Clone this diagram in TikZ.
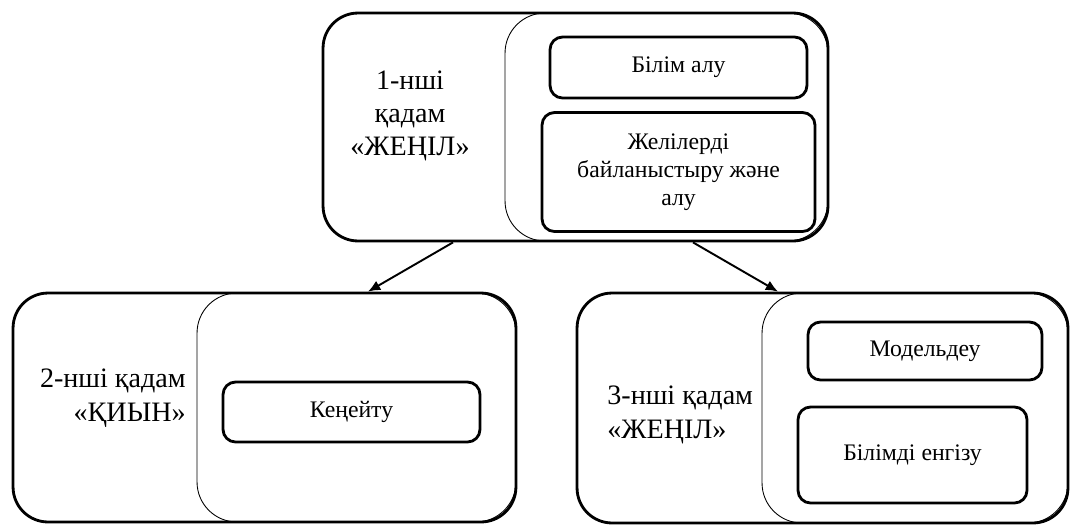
\documentclass[tikz,border=0pt]{standalone}
\usepackage{fontspec}
\setmainfont{Liberation Serif}
\usetikzlibrary{arrows.meta}
\begin{document}
\begin{tikzpicture}[x=0.02cm,y=-0.02cm,
    stepbox/.style={draw,line width=1.6pt,rounded corners=0.7cm},
    panel/.style={draw,line width=0.5pt,rounded corners=0.8cm},
    taskbox/.style={draw,line width=1.6pt,rounded corners=0.25cm,align=center,
        font=\fontsize{13.5}{16}\selectfont},
    steptext/.style={inner sep=0pt,font=\fontsize{16}{19}\selectfont},
    link/.style={-{Latex[length=7pt,width=6pt]},line width=1.1pt}]
    \useasboundingbox (0,0) rectangle (1072,525);
    % first step
    \node[panel,minimum width=6.46cm,minimum height=4.56cm] (panelone) at (666.5,127) {};
    \node[stepbox,minimum width=10.1cm,minimum height=4.56cm] (stepone) at (575.5,127) {};
    \node[steptext,align=center] (textone) at (410,116) {1-нші\\қадам\\«ЖЕҢІЛ»};
    \node[taskbox,minimum width=5.14cm,minimum height=1.22cm] (bilim) at (678.5,67.5) {Білім алу};
    \node[taskbox,minimum width=5.46cm,minimum height=2.38cm] (zheli) at (678.5,172) {Желілерді\\байланыстыру және\\алу};
    % second step
    \node[panel,minimum width=6.38cm,minimum height=4.58cm] (paneltwo) at (356.5,407.5) {};
    \node[stepbox,minimum width=10.06cm,minimum height=4.58cm] (steptwo) at (264.5,407.5) {};
    \node[steptext,align=right,anchor=east] (texttwo) at (186,398) {2-нші қадам\\«ҚИЫН»};
    \node[taskbox,minimum width=5.14cm,minimum height=1.2cm] (keneitu) at (351.5,412) {Кеңейту};
    % third step
    \node[panel,minimum width=6.12cm,minimum height=4.6cm] (panelthree) at (915,408) {};
    \node[stepbox,minimum width=9.82cm,minimum height=4.6cm] (stepthree) at (822.5,408) {};
    \node[steptext,align=left,anchor=west] (textthree) at (607,415) {3-нші қадам\\«ЖЕҢІЛ»};
    \node[taskbox,minimum width=4.68cm,minimum height=1.16cm] (model) at (925,351) {Модельдеу};
    \node[taskbox,minimum width=4.58cm,minimum height=1.92cm] (engizu) at (912.5,455) {Білімді енгізу};
    % arrows
    \draw[link] ([xshift=-2.45cm]stepone.south) -- ([xshift=2.07cm]steptwo.north);
    \draw[link] ([xshift=2.35cm]stepone.south) -- ([xshift=-0.89cm]stepthree.north);
\end{tikzpicture}
\end{document}
